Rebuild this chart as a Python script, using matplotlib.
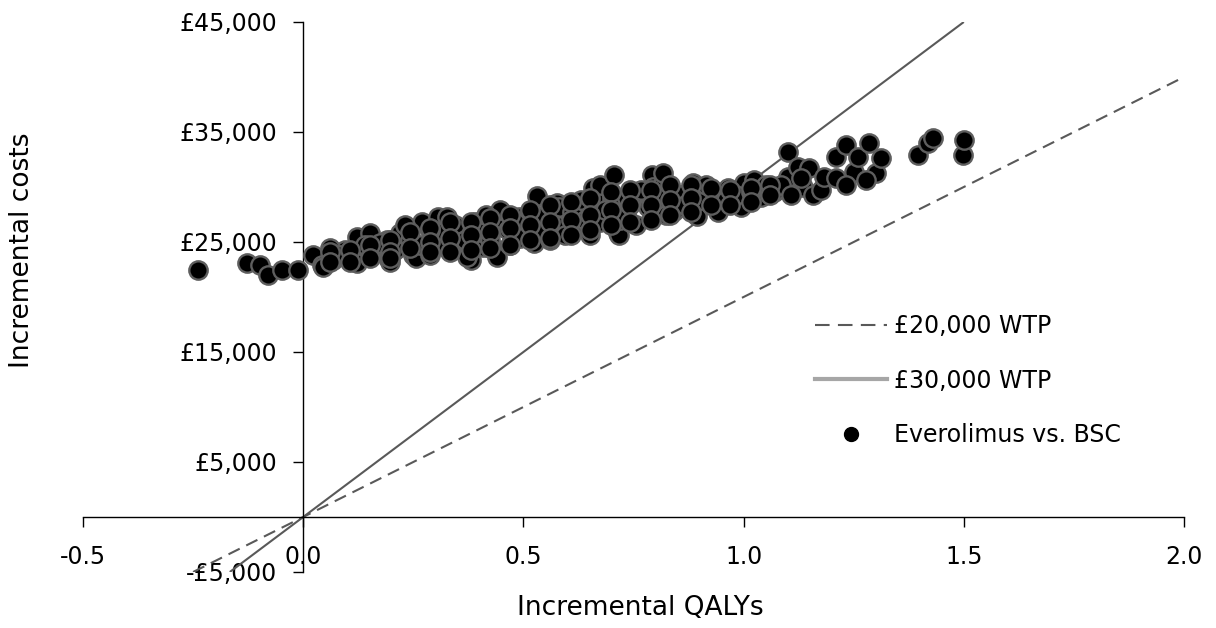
import matplotlib
matplotlib.use("Agg")
import matplotlib.pyplot as plt
from matplotlib.lines import Line2D

plt.rcParams['font.family'] = ['DejaVu Sans']

# Incremental QALYs (x) and incremental costs (y, £)
qalys = [
    -0.239, -0.127, -0.098, -0.080, -0.048, -0.011, 0.023, 0.043, 0.045, 0.068,
    0.095, 0.123, 0.123, 0.152, 0.168, 0.193, 0.191, 0.198, 0.220, 0.243,
    0.250, 0.255, 0.270, 0.307, 0.311, 0.323, 0.341, 0.357, 0.327, 0.380,
    0.373, 0.391, 0.409, 0.441, 0.441, 0.443, 0.448, 0.464, 0.489, 0.500,
    0.516, 0.523, 0.532, 0.539, 0.577, 0.580, 0.611, 0.614, 0.659, 0.668,
    0.675, 0.675, 0.702, 0.705, 0.714, 0.716, 0.720, 0.736, 0.748, 0.782,
    0.784, 0.793, 0.795, 0.816, 0.818, 0.841, 0.857, 0.886, 0.891, 0.895,
    0.930, 0.943, 0.964, 0.993, 1.000, 1.023, 1.039, 1.068, 1.073, 1.100,
    1.100, 1.123, 1.136, 1.148, 1.157, 1.175, 1.182, 1.209, 1.209, 1.232,
    1.250, 1.259, 1.284, 1.300, 1.311, 1.395, 1.418, 1.430, 1.498, 1.500,
    0.061, 0.084, 0.141, 0.175, 0.209, 0.232, 0.266, 0.289, 0.289, 0.345,
    0.368, 0.402, 0.414, 0.425, 0.470, 0.482, 0.493, 0.550, 0.561, 0.573,
    0.595, 0.630, 0.641, 0.652, 0.686, 0.732, 0.755, 0.766, 0.811, 0.823,
    0.868, 0.902, 0.914, 0.959, 0.982, 1.016, 1.050, 1.084, 1.107, 1.130,
    0.061, 0.061, 0.107, 0.107, 0.152, 0.152, 0.198, 0.198, 0.198, 0.243,
    0.243, 0.289, 0.289, 0.289, 0.334, 0.334, 0.334, 0.380, 0.380, 0.380,
    0.425, 0.425, 0.425, 0.470, 0.470, 0.470, 0.516, 0.516, 0.516, 0.561,
    0.561, 0.561, 0.607, 0.607, 0.607, 0.652, 0.652, 0.652, 0.698, 0.698,
    0.698, 0.743, 0.743, 0.743, 0.789, 0.789, 0.789, 0.834, 0.834, 0.834,
    0.880, 0.880, 0.880, 0.925, 0.925, 0.970, 0.970, 1.016, 1.016, 1.061,
    1.061, 1.232, 1.277,
]
costs = [
    22450, 23090, 22910, 22000, 22450, 22450, 23820, 22910, 22730, 23360,
    24270, 23090, 25450, 25820, 24090, 23550, 25180, 23180, 25820, 25180,
    23820, 23550, 26820, 27270, 25910, 24550, 24910, 26090, 27270, 23360,
    23640, 26820, 24550, 24270, 23640, 26360, 27910, 26090, 27270, 26090,
    27730, 24910, 29180, 26090, 28550, 28180, 27730, 26270, 29910, 28640,
    26820, 30180, 29000, 31090, 25820, 25640, 27000, 29000, 29000, 28360,
    28180, 31090, 30000, 30360, 31270, 27820, 29270, 30360, 30000, 27360,
    29270, 27730, 29910, 28180, 30360, 30640, 29090, 29550, 29730, 33180,
    30910, 31820, 30000, 31730, 29270, 29730, 30910, 32730, 30820, 33820,
    31360, 32730, 34000, 31270, 32640, 32910, 34000, 34450, 32910, 34270,
    24450, 23820, 24730, 24910, 24270, 26550, 24730, 26090, 23820, 26550,
    25180, 25910, 27450, 25180, 24730, 26820, 25360, 27450, 25180, 26550,
    25640, 28820, 27000, 25640, 27910, 27450, 26550, 29730, 29000, 27450,
    28360, 28820, 30180, 28820, 29270, 29550, 30180, 30180, 29270, 30820,
    24090, 23180, 24270, 23180, 24730, 23550, 25180, 24090, 23550, 25910,
    24450, 26270, 25000, 24090, 26820, 25360, 24090, 26820, 25640, 24270,
    27180, 25910, 24450, 27450, 26270, 24730, 27910, 26550, 25180, 28360,
    26820, 25360, 28640, 27000, 25640, 29000, 27450, 26090, 29550, 27910,
    26550, 29730, 28360, 26820, 29730, 28360, 27000, 30180, 28820, 27450,
    30180, 29000, 27730, 29910, 28360, 29730, 28360, 29910, 28640, 30180,
    29270, 30180, 30640,
]

wtp_values = [20000, 30000]
wtp_labels = ['£20,000 WTP', '£30,000 WTP']
series_label = 'Everolimus vs. BSC'

xticks = [-0.5, 0.0, 0.5, 1.0, 1.5, 2.0]
xtick_labels = ['-0.5', '0.0', '0.5', '1.0', '1.5', '2.0']
yticks = [-5000, 5000, 15000, 25000, 35000, 45000]
ytick_labels = ['-£5,000', '£5,000', '£15,000', '£25,000', '£35,000', '£45,000']

xmin, xmax = -0.5, 2.0
ymin, ymax = -5000, 45000
FS = 17
LFS = 19

fig = plt.figure(figsize=(12.16, 6.28), dpi=100)
ax = fig.add_axes([83/1216, 1-572/628, (1184-83)/1216, (572-22)/628])
ax.set_xlim(xmin, xmax)
ax.set_ylim(ymin, ymax)

line_col = '#595959'
# WTP threshold lines y = wtp * x clipped to the y range
for wtp, ls in zip(wtp_values, [(0, (6, 3.5)), '-']):
    x0 = max(xmin, ymin / wtp)
    x1 = min(xmax, ymax / wtp)
    ax.plot([x0, x1], [wtp * x0, wtp * x1], color=line_col, lw=1.5,
            linestyle=ls, zorder=2, solid_capstyle='butt')

ax.scatter(qalys, costs, s=175, color='black', edgecolors='#5e5e5e',
           linewidths=1.7, zorder=3)

for s in ['top', 'right']:
    ax.spines[s].set_visible(False)
ax.spines['left'].set_position(('data', 0))
ax.spines['bottom'].set_position(('data', 0))
for s in ['left', 'bottom']:
    ax.spines[s].set_linewidth(1.0)
    ax.spines[s].set_color('black')

ax.set_xticks(xticks)
ax.set_xticklabels(xtick_labels)
ax.set_yticks(yticks)
ax.set_yticklabels(ytick_labels)
ax.tick_params(axis='both', direction='out', length=7, width=1.0,
               labelsize=FS, colors='black')
ax.tick_params(axis='y', pad=12)
ax.tick_params(axis='x', pad=13)

ax.text((640-83)/1101, (572-608)/550, 'Incremental QALYs', transform=ax.transAxes,
        ha='center', va='center', fontsize=LFS)
ax.text((22-83)/1101, (572-250)/550, 'Incremental costs', transform=ax.transAxes,
        ha='center', va='center', fontsize=LFS, rotation=90)

handles = [
    Line2D([], [], color=line_col, lw=1.5, linestyle=(0, (7, 4))),
    Line2D([], [], color='#a6a6a6', lw=3),
    Line2D([], [], color='black', marker='o', linestyle='none', markersize=10),
]
leg = ax.legend(handles, wtp_labels + [series_label], loc='upper left',
                bbox_to_anchor=((815-83)/1101, (572-314)/550), frameon=False,
                fontsize=FS, handlelength=3.05, handletextpad=0.3,
                labelspacing=1.3, borderaxespad=0, borderpad=0)

fig.savefig('out.png', dpi=100)
